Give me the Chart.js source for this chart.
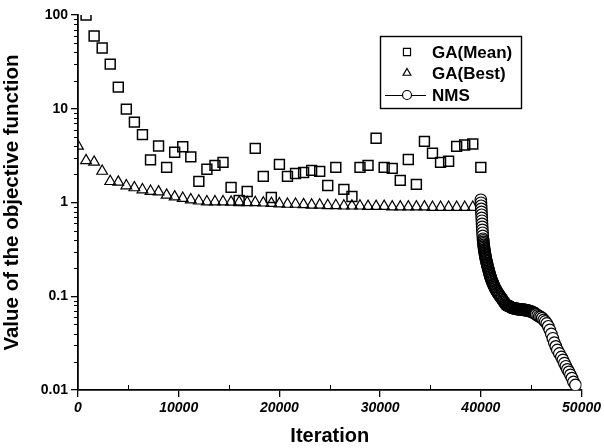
<!DOCTYPE html>
<html><head><meta charset="utf-8">
<script src="https://cdn.jsdelivr.net/npm/chart.js@4.4.1/dist/chart.umd.min.js"></script>
<style>html,body{margin:0;padding:0;background:#fff;}#wrap{width:604px;height:448px;}</style>
</head><body><div id="wrap"><canvas id="c" width="604" height="448"></canvas></div>
<script>
const seriesLabels = ['GA(Mean)', 'GA(Best)', 'NMS'];

const gaMeanIter = [800,1600,2400,3200,4000,4800,5600,6400,7200,8000,8800,9600,10400,11200,12000,12800,13600,14400,15200,16000,16800,17600,18400,19200,20000,20800,21600,22400,23200,24000,24800,25600,26400,27200,28000,28800,29600,30400,31200,32000,32800,33600,34400,35200,36000,36800,37600,38400,39200,40000];
const gaMeanValue = [100,59.6,44.4,29.9,17.0,9.9,7.2,5.3,2.85,4.0,2.37,3.43,3.93,3.07,1.68,2.26,2.49,2.68,1.45,1.05,1.31,3.78,1.90,1.13,2.55,1.90,2.04,2.09,2.20,2.15,1.52,2.37,1.38,1.16,2.37,2.49,4.84,2.37,2.31,1.72,2.88,1.56,4.49,3.35,2.68,2.75,3.97,4.1,4.2,2.37];

const gaBestIter = [0,800,1600,2400,3200,4000,4800,5600,6400,7200,8000,8800,9600,10400,11200,12000,12800,13600,14400,15200,16000,16800,17600,18400,19200,20000,20800,21600,22400,23200,24000,24800,25600,26400,27200,28000,28800,29600,30400,31200,32000,32800,33600,34400,35200,36000,36800,37600,38400,39200];
const gaBestValue = [4.0,2.8,2.7,2.16,1.68,1.65,1.51,1.44,1.37,1.32,1.30,1.20,1.15,1.11,1.07,1.04,1.02,1.02,1.02,1.01,1.01,1.00,1.00,0.99,0.98,0.97,0.96,0.96,0.95,0.94,0.94,0.93,0.93,0.92,0.92,0.92,0.91,0.91,0.91,0.90,0.90,0.90,0.90,0.90,0.89,0.89,0.89,0.89,0.89,0.89];

const nmsIter = [40000,40015,40030,40045,40060,40075,40090,40105,40120,40135,40150,40170,40190,40215,40230,40245,40262,40280,40300,40320,40340,40360,40385,40410,40435,40460,40490,40520,40555,40590,40625,40660,40700,40740,40780,40820,40860,40900,40945,40990,41045,41100,41160,41220,41285,41350,41425,41500,41590,41680,41780,41880,41990,42100,42200,42300,42400,42500,42600,42700,42800,42900,43000,43100,43200,43300,43400,43500,43600,43700,43800,43900,44000,44100,44200,44300,44400,44500,44600,44700,44800,44900,45000,45100,45200,45300,45400,45500,45650,45800,45950,46100,46250,46400,46550,46700,46850,47000,47150,47300,47450,47600,47800,48000,48150,48300,48450,48600,48750,48900,49050,49200,49400];
const nmsValue = [1.069,0.993,0.922,0.856,0.795,0.739,0.686,0.638,0.592,0.550,0.511,0.475,0.441,0.410,0.395,0.380,0.366,0.353,0.340,0.328,0.316,0.305,0.294,0.283,0.273,0.263,0.254,0.2445,0.236,0.227,0.219,0.211,0.203,0.196,0.189,0.182,0.175,0.169,0.163,0.157,0.151,0.1458,0.1406,0.1355,0.1306,0.1259,0.1213,0.1169,0.1127,0.1086,0.1047,0.1009,0.0972,0.0937,0.0903,0.0871,0.0840,0.0809,0.0800,0.0792,0.0785,0.0775,0.0765,0.0752,0.0748,0.0744,0.0740,0.0736,0.0732,0.0729,0.0727,0.0725,0.0722,0.0720,0.0718,0.0716,0.0714,0.0711,0.0707,0.0703,0.0698,0.0692,0.0687,0.0680,0.0672,0.0664,0.0655,0.0640,0.0625,0.0609,0.0602,0.0584,0.0559,0.0538,0.0512,0.0478,0.0437,0.0396,0.0356,0.0319,0.0292,0.0267,0.0245,0.0225,0.0209,0.0193,0.0179,0.0166,0.0156,0.0145,0.0134,0.0122,0.0113];

const xTickValues = [0,10000,20000,30000,40000,50000];
const xTickLabels = ['0','10000','20000','30000','40000','50000'];
const yTickValues = [0.01,0.1,1,10,100];
const yTickLabels = ['0.01','0.1','1','10','100'];

const FONT = '"Liberation Sans", Arial, sans-serif';

function pts(xs, ys){ return xs.map((x,i)=>({x:x, y:ys[i]})); }

const minorTicks = {
  id:'minorTicks',
  afterDraw(chart){
    const ctx = chart.ctx, a = chart.chartArea, xs = chart.scales.x, ys = chart.scales.y;
    ctx.save();
    ctx.strokeStyle = '#000'; ctx.lineWidth = 1;
    ctx.beginPath();
    for (let e = -2; e < 2; e++) {
      const d = Math.pow(10, e);
      for (let m = 2; m < 10; m++) {
        const py = Math.round(ys.getPixelForValue(d*m)) + 0.5;
        ctx.moveTo(a.left - 4, py); ctx.lineTo(a.left, py);
      }
    }
    for (let i = 0; i < xTickValues.length - 1; i++) {
      const v = (xTickValues[i] + xTickValues[i+1]) / 2;
      const px = Math.round(xs.getPixelForValue(v)) + 0.5;
      ctx.moveTo(px, a.bottom); ctx.lineTo(px, a.bottom - 5);
    }
    ctx.stroke();
    ctx.restore();
  }
};

const boxLegend = {
  id:'boxLegend',
  afterDraw(chart){
    const ctx = chart.ctx;
    ctx.save();
    ctx.strokeStyle = '#000'; ctx.lineWidth = 1.4;
    ctx.strokeRect(380.5, 36.5, 141, 72);
    const rows = [52, 73, 95];
    const radii = [5, 4.5, 4.5];
    chart.data.datasets.forEach((ds, i) => {
      const y = rows[i];
      ctx.strokeStyle = '#000';
      if (ds.showLine) {
        ctx.lineWidth = 1.2;
        ctx.beginPath(); ctx.moveTo(385, y + 0.5); ctx.lineTo(426, y + 0.5); ctx.stroke();
      }
      ctx.fillStyle = '#fff';
      ctx.lineWidth = 1.2;
      Chart.helpers.drawPoint(ctx, {pointStyle: ds.pointStyle, radius: radii[i], borderWidth: 1.2, rotation: 0}, 407, y);
      ctx.fillStyle = '#000';
      ctx.font = 'bold 17px ' + FONT;
      ctx.textBaseline = 'middle';
      ctx.textAlign = 'left';
      ctx.fillText(ds.label, 432, y + 1);
    });
    ctx.restore();
  }
};

new Chart(document.getElementById('c'), {
  type: 'scatter',
  data: {
    datasets: [
      {
        label: seriesLabels[0],
        data: pts(gaMeanIter, gaMeanValue),
        showLine: false,
        pointStyle: 'rect',
        pointRadius: 7,
        pointBorderWidth: 1.5,
        borderColor: '#000',
        backgroundColor: 'rgba(0,0,0,0)',
        order: 2
      },
      {
        label: seriesLabels[1],
        data: pts(gaBestIter, gaBestValue),
        showLine: false,
        pointStyle: 'triangle',
        pointRadius: 6.2,
        pointBorderWidth: 1.2,
        borderColor: '#000',
        backgroundColor: 'rgba(0,0,0,0)',
        order: 1
      },
      {
        label: seriesLabels[2],
        data: pts(nmsIter, nmsValue),
        showLine: true,
        borderColor: '#000',
        borderWidth: 1,
        pointStyle: 'circle',
        pointRadius: 5.8,
        pointBorderWidth: 1.2,
        pointBorderColor: '#000',
        pointBackgroundColor: (c) => {
          const r = c.raw;
          if (!r) return '#fff';
          return (r.y > 0.42 || r.x > 45400) ? '#fff' : 'rgba(0,0,0,0)';
        },
        order: -1
      }
    ]
  },
  options: {
    responsive: false,
    animation: false,
    devicePixelRatio: 1,
    layout: { padding: { top: 15, right: 20, left: 0, bottom: 0 } },
    plugins: { legend: { display: false }, tooltip: { enabled: false } },
    scales: {
      x: {
        type: 'linear', min: 0, max: 50000,
        afterBuildTicks: (s) => { s.ticks = xTickValues.map(v => ({value: v})); },
        afterFit: (s) => { s.height = 58; },
        ticks: {
          autoSkip: false, maxRotation: 0, padding: 3, color: '#000',
          font: { family: FONT, size: 14, weight: 'bold', style: 'italic' },
          callback: (v) => xTickLabels[xTickValues.indexOf(v)]
        },
        grid: { display: true, drawOnChartArea: false, drawTicks: true, tickLength: 7, color: '#000', lineWidth: 1.3 },
        border: { display: true, color: '#000', width: 1.8 },
        title: { display: true, text: 'Iteration', color: '#000', font: { family: FONT, size: 20, weight: 'bold' }, padding: { top: 0, bottom: 0 } }
      },
      y: {
        type: 'logarithmic', min: 0.01, max: 100,
        afterBuildTicks: (s) => { s.ticks = yTickValues.map(v => ({value: v, major: true})); },
        afterFit: (s) => { s.width = 78; },
        ticks: {
          autoSkip: false, padding: 3, color: '#000',
          font: { family: FONT, size: 14, weight: 'bold' },
          callback: (v) => { const i = yTickValues.findIndex(t => Math.abs(t - v) / t < 1e-6); return i >= 0 ? yTickLabels[i] : ''; }
        },
        grid: { display: true, drawOnChartArea: false, drawTicks: true, tickLength: 7, color: '#000', lineWidth: 1.3 },
        border: { display: true, color: '#000', width: 1.8 },
        title: { display: true, text: 'Value of the objective function', color: '#000', font: { family: FONT, size: 20.5, weight: 'bold' }, padding: { top: 0, bottom: 6 } }
      }
    }
  },
  plugins: [minorTicks, boxLegend]
});
</script>
</body></html>
